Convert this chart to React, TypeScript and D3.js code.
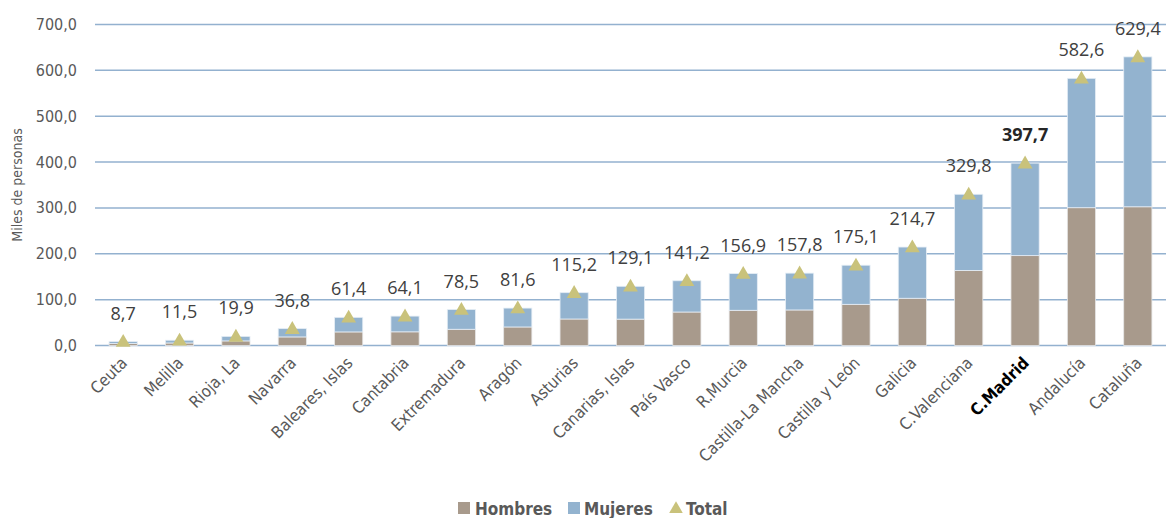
import React, { useRef, useEffect } from "react";
import * as d3 from "d3";

// comunidades, ordered by total
const regions = [
  "Ceuta", "Melilla", "Rioja, La", "Navarra", "Baleares, Islas", "Cantabria",
  "Extremadura", "Aragón", "Asturias", "Canarias, Islas", "País Vasco", "R.Murcia",
  "Castilla-La Mancha", "Castilla y León", "Galicia", "C.Valenciana", "C.Madrid",
  "Andalucía", "Cataluña",
];
const hombres = [4.2, 5.5, 10.0, 18.7, 29.6, 29.8, 35.4, 40.4, 57.8, 57.5, 73.0, 76.8, 77.5, 89.8, 103.0, 163.7, 196.0, 300.5, 302.5];
const mujeres = [4.5, 6.0, 9.9, 18.1, 31.8, 34.3, 43.1, 41.2, 57.4, 71.6, 68.2, 80.1, 80.3, 85.3, 111.7, 166.1, 201.7, 282.1, 326.9];
const totals = [8.7, 11.5, 19.9, 36.8, 61.4, 64.1, 78.5, 81.6, 115.2, 129.1, 141.2, 156.9, 157.8, 175.1, 214.7, 329.8, 397.7, 582.6, 629.4];
const yTicks = [0, 100, 200, 300, 400, 500, 600, 700];
const highlight = "C.Madrid";

const COL_H = "#a89a8c";
const COL_M = "#93b3cf";
const COL_T = "#c9c27b";
const NARROW = "'DejaVu Sans Condensed', 'Liberation Sans Narrow', sans-serif";
const fmt = (v: number) => v.toFixed(1).replace(".", ",");

function App() {
  const svgRef = useRef<SVGSVGElement>(null);

  useEffect(() => {
    const w = 1176;
    const h = 518;
    const svg = d3.select(svgRef.current).attr("width", w).attr("height", h);
    svg.selectAll("*").remove();

    const x = d3.scaleBand().domain(regions).range([95, 1166]).paddingInner(0.5).paddingOuter(0.25);
    const y = d3.scaleLinear().domain([0, 700]).range([345.5, 24.5]);

    // gridlines
    svg.append("g")
      .selectAll("line")
      .data(yTicks)
      .enter()
      .append("line")
      .attr("x1", 95)
      .attr("x2", 1166)
      .attr("y1", (d) => y(d))
      .attr("y2", (d) => y(d))
      .attr("stroke", "#93b1cf")
      .attr("stroke-width", 1.5);

    // y tick labels
    svg.append("g")
      .selectAll("text")
      .data(yTicks)
      .enter()
      .append("text")
      .attr("x", 77)
      .attr("y", (d) => y(d) + 5.5)
      .attr("text-anchor", "end")
      .attr("font-family", NARROW)
      .attr("font-stretch", "condensed")
      .attr("font-size", 16)
      .attr("fill", "#595959")
      .text((d) => fmt(d));

    svg.append("text")
      .attr("transform", `translate(22, ${y(350)}) rotate(-90)`)
      .attr("text-anchor", "middle")
      .attr("font-family", NARROW)
      .attr("font-stretch", "condensed")
      .attr("font-size", 14)
      .attr("fill", "#595959")
      .text("Miles de personas");

    // stacked bars
    const bars = svg.append("g");
    regions.forEach((r, i) => {
      bars.append("rect")
        .attr("x", x(r)!)
        .attr("width", x.bandwidth())
        .attr("y", y(hombres[i]))
        .attr("height", y(0) - y(hombres[i]))
        .attr("fill", COL_H)
        .attr("stroke", "#e6e6e6")
        .attr("stroke-width", 0.8);
      bars.append("rect")
        .attr("x", x(r)!)
        .attr("width", x.bandwidth())
        .attr("y", y(hombres[i] + mujeres[i]))
        .attr("height", y(hombres[i]) - y(hombres[i] + mujeres[i]))
        .attr("fill", COL_M)
        .attr("stroke", "#e6eef6")
        .attr("stroke-width", 0.8);
    });

    // total markers + labels
    const tri = d3.symbol().type(d3.symbolTriangle).size(95);
    regions.forEach((r, i) => {
      const cx = x(r)! + x.bandwidth() / 2;
      svg.append("path")
        .attr("d", tri()!)
        .attr("transform", `translate(${cx}, ${y(totals[i]) + 1})`)
        .attr("fill", COL_T);
      svg.append("text")
        .attr("x", cx)
        .attr("y", y(totals[i]) - 22)
        .attr("text-anchor", "middle")
        .attr("font-family", "'Open Sans', sans-serif")
        .attr("font-size", 18)
        .attr("font-weight", r === highlight ? 700 : 400)
        .attr("fill", r === highlight ? "#262626" : "#404040")
        .text(fmt(totals[i]));
    });

    // x labels, rotated 45 degrees
    svg.append("g")
      .selectAll("text")
      .data(regions)
      .enter()
      .append("text")
      .attr("x", 0)
      .attr("y", 0)
      .attr("transform", (d) => `translate(${x(d)! + x.bandwidth() / 2 + 5},364) rotate(-45)`)
      .attr("text-anchor", "end")
      .attr("font-family", NARROW)
      .attr("font-stretch", "condensed")
      .attr("font-size", 16.5)
      .attr("font-weight", (d) => (d === highlight ? 700 : 400))
      .attr("fill", (d) => (d === highlight ? "#000" : "#595959"))
      .text((d) => d);

    // legend
    const lg = svg.append("g")
      .attr("font-family", NARROW)
      .attr("font-stretch", "condensed")
      .attr("font-size", 17)
      .attr("font-weight", 700)
      .attr("fill", "#595959");
    lg.append("rect").attr("x", 458).attr("y", 502).attr("width", 12).attr("height", 12).attr("fill", COL_H);
    lg.append("text").attr("x", 475).attr("y", 515).text("Hombres");
    lg.append("rect").attr("x", 568).attr("y", 502).attr("width", 12).attr("height", 12).attr("fill", COL_M);
    lg.append("text").attr("x", 584).attr("y", 515).text("Mujeres");
    lg.append("path")
      .attr("d", d3.symbol().type(d3.symbolTriangle).size(80)()!)
      .attr("transform", "translate(676, 509)")
      .attr("fill", COL_T);
    lg.append("text").attr("x", 686).attr("y", 515).text("Total");
  }, []);

  return (
    <div style={{ position: "absolute", left: 0, top: 0, background: "#fff" }}>
      <svg ref={svgRef} style={{ display: "block" }}></svg>
    </div>
  );
}

export default App;
